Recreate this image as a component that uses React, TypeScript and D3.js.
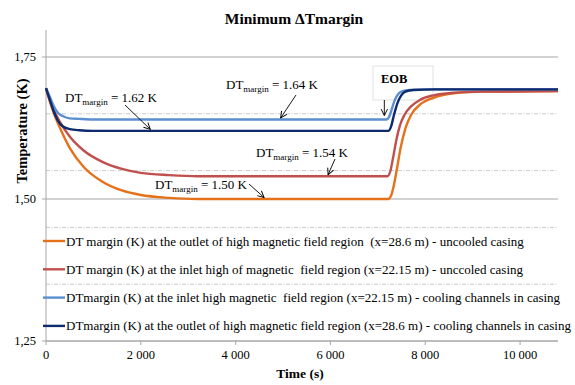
import React from "react";
import * as d3 from "d3";

// Time (s) / temperature margin (K) samples for each curve
const orangeT = [0, 80, 160, 300, 500, 800, 1200, 1600, 2000, 2600, 3200, 7220, 7280, 7340, 7400, 7480, 7580, 7700, 7900, 8200, 8600, 9200, 10800];
const orangeV = [1.695, 1.672, 1.652, 1.624, 1.59, 1.556, 1.53, 1.515, 1.507, 1.502, 1.5, 1.5, 1.506, 1.525, 1.552, 1.59, 1.624, 1.648, 1.667, 1.679, 1.686, 1.689, 1.69];

const redT = [0, 80, 160, 300, 500, 800, 1200, 1600, 2000, 2600, 3200, 7200, 7260, 7320, 7390, 7460, 7560, 7700, 7900, 8200, 8600, 9200, 10800];
const redV = [1.695, 1.674, 1.657, 1.635, 1.61, 1.585, 1.565, 1.553, 1.546, 1.542, 1.54, 1.54, 1.548, 1.572, 1.604, 1.628, 1.648, 1.663, 1.675, 1.683, 1.687, 1.689, 1.69];

const lightT = [0, 80, 160, 250, 350, 500, 700, 1000, 7180, 7240, 7300, 7360, 7430, 7520, 7680, 8000, 10800];
const lightV = [1.695, 1.68, 1.664, 1.652, 1.646, 1.642, 1.641, 1.64, 1.64, 1.645, 1.66, 1.675, 1.685, 1.69, 1.692, 1.693, 1.693];

const darkT = [0, 80, 160, 250, 350, 500, 700, 1000, 7220, 7280, 7340, 7410, 7490, 7580, 7750, 8200, 10800];
const darkV = [1.695, 1.675, 1.655, 1.638, 1.628, 1.623, 1.621, 1.62, 1.62, 1.628, 1.648, 1.668, 1.682, 1.689, 1.692, 1.693, 1.693];

const legendLabels = [
  "DT margin (K) at the outlet of high magnetic field region  (x=28.6 m) - uncooled casing",
  "DT margin (K) at the inlet high of magnetic  field region (x=22.15 m) - unccoled casing",
  "DTmargin (K) at the inlet high magnetic  field region (x=22.15 m) - cooling channels in casing",
  "DTmargin (K) at the outlet of high magnetic field region (x=28.6 m) - cooling channels in casing",
];

const xTicks = [0, 2000, 4000, 6000, 8000, 10000];
const yMajorTicks = [1.25, 1.5, 1.75];
const yMinorGrid = [1.35, 1.45, 1.55, 1.65];

const EOB_TIME = 7200;

const colors = ["#E5711B", "#C0504D", "#5B8FD0", "#0F2A6E"];

const series = [
  { t: orangeT, v: orangeV },
  { t: redT, v: redV },
  { t: lightT, v: lightV },
  { t: darkT, v: darkV },
].map((s, i) => ({
  color: colors[i],
  label: legendLabels[i],
  points: s.t.map((t, j) => [t, s.v[j]] as [number, number]),
  min: d3.min(s.v) as number,
}));

const SERIF = "Liberation Serif";

export default function App() {
  const W = 575;
  const H = 385;
  const x = d3.scaleLinear().domain([0, 10800]).range([46, 558]);
  const y = d3.scaleLinear().domain([1.25, 1.75]).range([341, 57]);
  const line = d3
    .line<[number, number]>()
    .x((d) => x(d[0]))
    .y((d) => y(d[1]))
    .curve(d3.curveMonotoneX);

  const fmtY = (v: number) => d3.format(".2f")(v).replace(".", ",");
  const fmtX = (v: number) => d3.format(",")(v).replace(/,/g, " ");
  const fmtMin = (v: number) => d3.format(".2f")(v);

  const tf = { fontFamily: SERIF, whiteSpace: "pre" as const };

  // annotation placements: series index, text position, arrow start, arrow target time
  const notes = [
    { s: 3, tx: 65, ty: 102, ax: 125, ay: 105, at: 2200 },
    { s: 2, tx: 226, ty: 89, ax: 296, ay: 95, at: 4950 },
    { s: 1, tx: 256, ty: 157, ax: 335, ay: 159, at: 5950 },
    { s: 0, tx: 155, ty: 189, ax: 249, ay: 184, at: 4600 },
  ];

  return (
    <svg width={W} height={H} style={{ position: "absolute", left: 0, top: 0, background: "#fff" }}>
      <defs>
        <marker id="arr" viewBox="0 0 10 10" refX="9" refY="5" markerWidth="8" markerHeight="8" orient="auto-start-reverse" markerUnits="userSpaceOnUse">
          <path d="M1,1 L9,5 L1,9" fill="none" stroke="#000" strokeWidth="1.2" />
        </marker>
      </defs>
      <rect width={W} height={H} fill="#fff" />

      {/* title */}
      <text x={294} y={24} textAnchor="middle" fontSize={15.5} fontWeight="bold" style={tf}>
        Minimum ΔTmargin
      </text>

      {/* minor grid */}
      {yMinorGrid.map((v) => (
        <line key={v} x1={46} x2={558} y1={y(v)} y2={y(v)} stroke="#BDBDBD" strokeWidth={0.8} strokeDasharray="4 1.5 1 1.5" />
      ))}
      {/* major grid */}
      {yMajorTicks.map((v) => (
        <g key={v}>
          <line x1={42} x2={558} y1={y(v)} y2={y(v)} stroke="#A6A6A6" strokeWidth={1} />
          <text x={36} y={y(v) + 4} textAnchor="end" fontSize={12.5} style={tf}>
            {fmtY(v)}
          </text>
        </g>
      ))}

      {/* axes */}
      <line x1={46} x2={46} y1={30} y2={341} stroke="#A6A6A6" strokeWidth={1} />
      <line x1={46} x2={558} y1={341} y2={341} stroke="#A6A6A6" strokeWidth={1} />
      {xTicks.map((t) => (
        <g key={t}>
          <line x1={x(t)} x2={x(t)} y1={341} y2={345} stroke="#A6A6A6" />
          <text x={x(t)} y={359} textAnchor="middle" fontSize={12.5} style={tf}>
            {fmtX(t)}
          </text>
        </g>
      ))}

      <text x={300} y={378} textAnchor="middle" fontSize={13.5} fontWeight="bold" style={tf}>
        Time (s)
      </text>
      <text transform="translate(27,131) rotate(-90)" textAnchor="middle" fontSize={14.5} fontWeight="bold" style={tf}>
        Temperature (K)
      </text>

      {/* EOB box */}
      <rect x={373} y={66} width={60} height={34} fill="#fff" stroke="#D9D9D9" strokeWidth={0.8} />
      <text x={381} y={83} fontSize={12.5} fontWeight="bold" style={tf}>
        EOB
      </text>
      <line x1={x(EOB_TIME) - 3} y1={100} x2={x(EOB_TIME) - 3} y2={y(series[2].min) - 4} stroke="#000" strokeWidth={0.9} markerEnd="url(#arr)" />

      {/* series */}
      {series.map((s) => (
        <path key={s.color} d={line(s.points) || ""} fill="none" stroke={s.color} strokeWidth={2.4} />
      ))}

      {/* annotations */}
      {notes.map((n) => {
        const s = series[n.s];
        return (
          <g key={n.s}>
            <text x={n.tx} y={n.ty} fontSize={13} style={tf}>
              DT
              <tspan fontSize={9} dy={3}>margin</tspan>
              <tspan dy={-3}>{` = ${fmtMin(s.min)} K`}</tspan>
            </text>
            <line x1={n.ax} y1={n.ay} x2={x(n.at)} y2={y(s.min) - 1.5} stroke="#000" strokeWidth={0.9} markerEnd="url(#arr)" />
          </g>
        );
      })}

      {/* legend */}
      {series.map((s, i) => {
        const ly = 241 + i * 28.3;
        return (
          <g key={s.label}>
            <line x1={43} x2={65} y1={ly} y2={ly} stroke={s.color} strokeWidth={2.4} />
            <text x={66} y={ly + 4.5} fontSize={13} style={tf}>
              {s.label}
            </text>
          </g>
        );
      })}
    </svg>
  );
}
